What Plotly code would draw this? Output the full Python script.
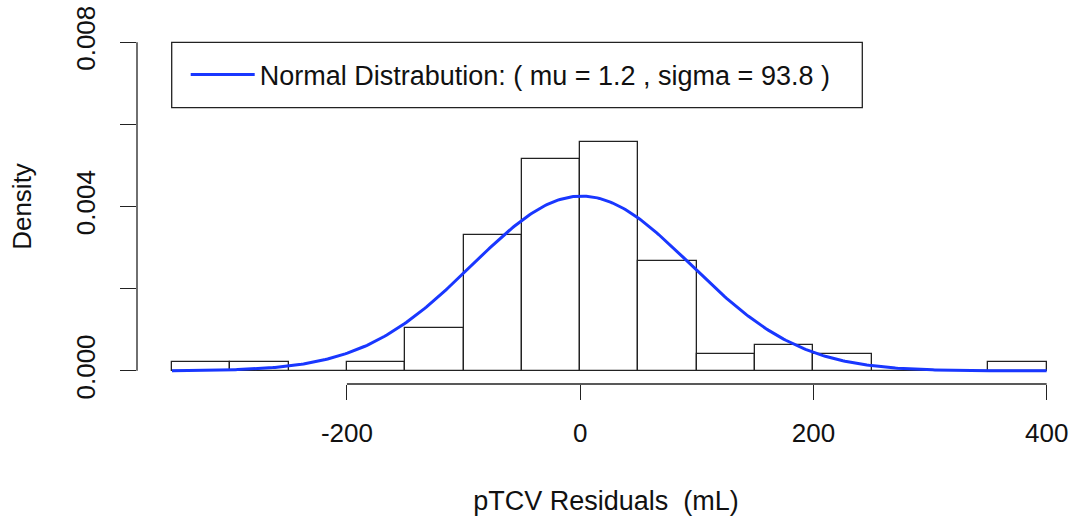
import numpy as np
import plotly.graph_objects as go

# ---- data ----
bin_left = [-350, -300, -250, -200, -150, -100, -50, 0, 50, 100, 150, 200, 250, 300, 350]
bin_width = 50
counts = [1, 1, 0, 1, 5, 16, 25, 27, 13, 2, 3, 2, 0, 0, 1]
mu = 1.2
sigma = 93.8
x_ticks = [-200, 0, 200, 400]
x_tick_text = ["-200", "0", "200", "400"]
y_ticks = [0.0, 0.002, 0.004, 0.006, 0.008]
y_tick_text = ["0.000", "", "0.004", "", "0.008"]

n = sum(counts)
centers = [b + bin_width / 2 for b in bin_left]
density = [c / (n * bin_width) for c in counts]

xs = np.linspace(bin_left[0], bin_left[-1] + bin_width, 400)
ys = np.exp(-0.5 * ((xs - mu) / sigma) ** 2) / (sigma * np.sqrt(2 * np.pi))

FONT = "Liberation Sans, Arial, Helvetica, sans-serif"
AX = "#222222"

# plot-area geometry (px)
W, H = 1075, 516
ML, MR, MT, MB = 137, 0, 29, 132
PW, PH = W - ML - MR, H - MT - MB


def px_x(p):
    return (p - ML) / PW


def px_y(p):
    return 1 - (p - MT) / PH


fig = go.Figure()
fig.add_trace(go.Bar(
    x=centers, y=density, width=bin_width,
    marker=dict(color="white", line=dict(color=AX, width=1.3)),
    showlegend=False, hoverinfo="skip",
))
fig.add_trace(go.Scatter(
    x=xs, y=ys, mode="lines",
    line=dict(color="rgb(25,55,255)", width=3),
    name=f"Normal Distrabution: ( mu = {mu} , sigma = {sigma} )",
    showlegend=True,
))

# R-style axis lines spanning only the tick range
fig.add_shape(type="line", xref="x", yref="paper", x0=x_ticks[0], x1=x_ticks[-1], y0=0, y1=0,
              line=dict(color=AX, width=1.3))
fig.add_shape(type="line", xref="paper", yref="y", x0=0, x1=0, y0=y_ticks[0], y1=y_ticks[-1],
              line=dict(color=AX, width=1.3))
# legend frame
fig.add_shape(type="rect", xref="paper", yref="paper",
              x0=px_x(171.7), x1=px_x(862.3), y0=px_y(107.7), y1=px_y(42.3),
              line=dict(color=AX, width=1.3), fillcolor="rgba(0,0,0,0)")

fig.update_layout(
    width=W, height=H,
    margin=dict(l=ML, r=MR, t=MT, b=MB),
    paper_bgcolor="white", plot_bgcolor="white",
    font=dict(family=FONT, size=26, color="#111111"),
    bargap=0,
    legend=dict(
        x=px_x(171.7), y=px_y(75), xanchor="left", yanchor="middle",
        borderwidth=0, bgcolor="rgba(0,0,0,0)",
        font=dict(size=27), itemwidth=64, indentation=14,
    ),
    xaxis=dict(
        range=[-380, 424.3], showgrid=False, zeroline=False, showline=False,
        tickmode="array", tickvals=x_ticks, ticktext=x_tick_text,
        ticks="outside", ticklen=15,
        tickcolor=AX, tickwidth=1.3, tickfont=dict(size=26),
        ticklabelstandoff=11,
        title=dict(text="pTCV Residuals  (mL)", font=dict(size=27), standoff=48),
    ),
    yaxis=dict(
        range=[-0.00032, 0.00832], showgrid=False, zeroline=False, showline=False,
        tickmode="array", tickvals=y_ticks, ticktext=y_tick_text, tickangle=-90,
        ticks="outside", ticklen=16, tickcolor=AX, tickwidth=1.3,
        tickfont=dict(size=26), ticklabelstandoff=15,
        title=dict(text="Density", font=dict(size=26), standoff=31),
    ),
)

fig.write_html("out.html")
